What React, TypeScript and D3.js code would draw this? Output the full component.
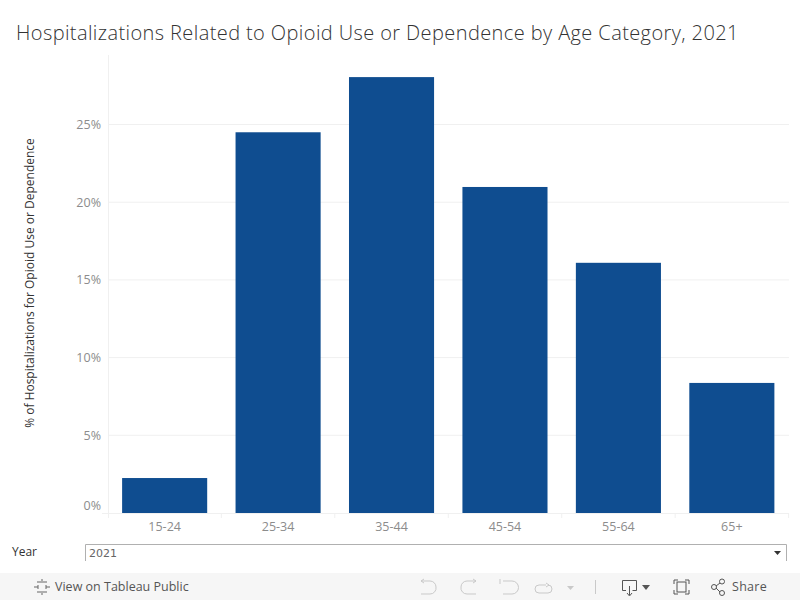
import React from "react";
import * as d3 from "d3";

const categories = ["15-24", "25-34", "35-44", "45-54", "55-64", "65+"];
const values = [2.25, 24.5, 28.05, 20.98, 16.1, 8.37];
const yTicks = [0, 5, 10, 15, 20, 25];
const title = "Hospitalizations Related to Opioid Use or Dependence by Age Category, 2021";
const yTitle = "% of Hospitalizations for Opioid Use or Dependence";
const FONT = "'Open Sans', sans-serif";

export default function App() {
  const x = d3.scaleBand<string>().domain(categories).range([108.5, 788]).paddingInner(0.25).paddingOuter(0.12);
  const y = d3.scaleLinear().domain([0, 25]).range([513, 124.5]);
  const step = x.step();
  const gridTicks = yTicks.filter((t) => t > 0);
  return (
    <svg width={800} height={600} style={{ position: "fixed", left: 0, top: 0, background: "#fff", fontFamily: FONT }}>
      <text x={16} y={40} fontSize={20} fontWeight={300} fill="#333" letterSpacing={0.4} fontFamily={FONT}>{title}</text>

      {gridTicks.map((t) => (
        <line key={t} x1={108.5} x2={789} y1={y(t)} y2={y(t)} stroke="#f0f0f0" />
      ))}
      <line x1={108.5} x2={108.5} y1={55} y2={518} stroke="#f0f0f0" />
      <line x1={102} x2={789} y1={513.5} y2={513.5} stroke="#f0f0f0" />
      {categories.map((c) => (
        <line key={c} x1={(x(c) as number) + x.bandwidth() / 2 + step / 2} x2={(x(c) as number) + x.bandwidth() / 2 + step / 2} y1={513} y2={518} stroke="#f0f0f0" />
      ))}

      {categories.map((c, i) => (
        <rect key={c} x={x(c)} y={y(values[i])} width={x.bandwidth()} height={513 - y(values[i])} fill="#0f4d90" />
      ))}

      {yTicks.map((t) => (
        <text key={t} x={101} y={t === 0 ? 510 : y(t) + 4.5} textAnchor="end" fontSize={12.5} fill="#8c8c8c">{`${t}%`}</text>
      ))}
      {categories.map((c) => (
        <text key={c} x={(x(c) as number) + x.bandwidth() / 2} y={531} textAnchor="middle" fontSize={12.5} fill="#8c8c8c">{c}</text>
      ))}
      <text transform="translate(34,283) rotate(-90)" textAnchor="middle" fontSize={12} fill="#333">{yTitle}</text>

      <text x={12} y={556} fontSize={12} fill="#333">Year</text>
      <path d="M85.5 561V544.5H786.5V561" fill="none" stroke="#b0b0b0" />
      <text x={89} y={557} fontSize={11} fill="#666" fontFamily="'DejaVu Sans', sans-serif">2021</text>
      <path d="M774 551h7l-3.5 4z" fill="#333" />

      <rect x={0} y={573} width={800} height={27} fill="#f6f6f6" />
      <g stroke="#666" strokeWidth={1} fill="none">
        <path d="M42 579v4M42 591v4M34 587h4M46 587h4M37 582h4M37 592h4M43 582h4M43 592h4M38 585v4M46 585v4" />
      </g>
      <text x={55} y={591} fontSize={12.5} fill="#555">View on Tableau Public</text>

      <g stroke="#c9c9c9" strokeWidth={1} fill="none">
        <path d="M421 581h9a6 6 0 0 1 6 6 6 6 0 0 1-6 7h-9" />
        <path d="M421 581l3-2M421 581l3 2" />
        <path d="M476 581h-9a6 6 0 0 0-6 6 6 6 0 0 0 6 7h9" />
        <path d="M476 581l-3-2M476 581l-3 2" />
        <path d="M500 579v5M503 581h9a6 6 0 0 1 0 13h-9" />
        <path d="M546 585h-7a4 4 0 0 0 0 8h9a4 4 0 0 0 0-8M546 583l3 2-3 2" />
        <path d="M595.5 580v14" />
      </g>
      <path d="M567 586h7l-3.5 4z" fill="#c9c9c9" />
      <g stroke="#555" strokeWidth={1} fill="none">
        <path d="M622.5 580.5h14v10h-4M626 590.5h-3.5v-10" />
        <path d="M629.5 586v9M627 593l2.5 3 2.5-3" />
        <rect x={677} y={582} width={9} height={10} />
        <path d="M674 584v-4h4M685 580h4v4M689 590v4h-4M678 594h-4v-4" />
        <circle cx={722} cy={581.5} r={2.5} />
        <circle cx={714} cy={587} r={2.5} />
        <circle cx={722} cy={593} r={2.5} />
        <path d="M716 586l4-3M716 588l4 4" />
      </g>
      <path d="M642 585h8l-4 5z" fill="#555" />
      <text x={732} y={591} fontSize={12.5} fill="#555" letterSpacing={0.3}>Share</text>
    </svg>
  );
}
